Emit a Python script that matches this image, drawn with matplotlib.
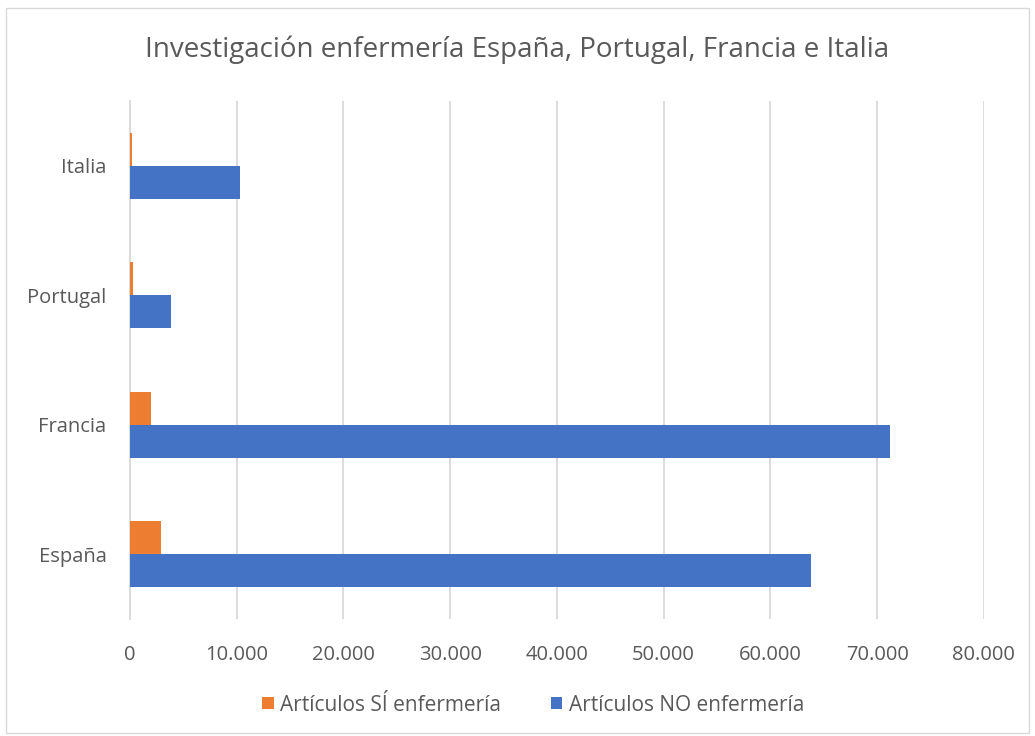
import matplotlib
matplotlib.use("Agg")
import matplotlib.pyplot as plt
import numpy as np
from matplotlib.patches import Rectangle

categories = ["España", "Francia", "Portugal", "Italia"]
si_enfermeria = [2870, 1960, 240, 180]
no_enfermeria = [63790, 71220, 3800, 10330]
xticks = [0, 10000, 20000, 30000, 40000, 50000, 60000, 70000, 80000]
xticklabels = ["0", "10.000", "20.000", "30.000", "40.000", "50.000", "60.000", "70.000", "80.000"]
title = "Investigación enfermería España, Portugal, Francia e Italia"
series_names = ["Artículos SÍ enfermería", "Artículos NO enfermería"]

plt.rcParams['font.family'] = ['Open Sans', 'DejaVu Sans']
text_color = "#595959"

fig = plt.figure(figsize=(10.35, 7.36), dpi=100)
ax = fig.add_axes([0.1256, 0.159, 0.825, 0.7038])

y = np.arange(len(categories))
h = 0.255
ax.barh(y + h / 2, si_enfermeria, height=h, color="#ED7D31", label=series_names[0], zorder=3)
ax.barh(y - h / 2, no_enfermeria, height=h, color="#4472C4", label=series_names[1], zorder=3)

ax.set_xlim(0, 80000)
ax.set_ylim(-0.5, len(categories) - 0.5)
ax.set_xticks(xticks)
ax.set_xticklabels(xticklabels)
ax.set_yticks(y)
ax.set_yticklabels(categories)
ax.tick_params(axis='both', length=0, labelsize=14.5, colors=text_color)
ax.tick_params(axis='y', pad=17)
ax.tick_params(axis='x', pad=19)
ax.grid(axis='x', color="#D9D9D9", linewidth=1.3, zorder=0)
for s in ["top", "right", "bottom"]:
    ax.spines[s].set_visible(False)
ax.spines["left"].set_color("#D9D9D9")
ax.spines["left"].set_linewidth(1.3)

fig.text(0.5, 0.932, title, ha='center', va='center', fontsize=20, color=text_color)

leg = fig.legend(loc='center', bbox_to_anchor=(0.515, 0.042), ncol=2, frameon=False,
                 fontsize=15, handlelength=0.55, handleheight=0.55, handletextpad=0.3,
                 columnspacing=2.4)
for t in leg.get_texts():
    t.set_color(text_color)

fig.patches.append(Rectangle((0.006, 0.004), 0.988, 0.985, transform=fig.transFigure,
                             fill=False, edgecolor="#D9D9D9", linewidth=1.0))

fig.savefig("out.png", dpi=100, facecolor="white")
